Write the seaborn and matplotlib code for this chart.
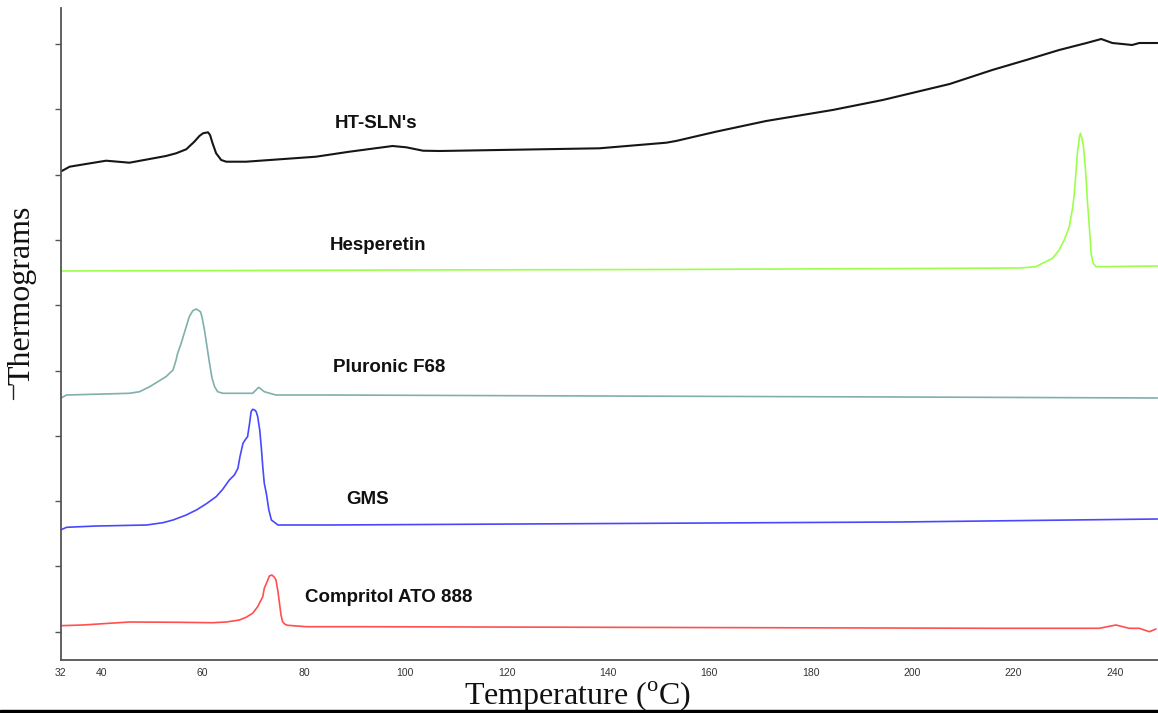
import numpy as np
import pandas as pd
import matplotlib
matplotlib.use("Agg")
import matplotlib.pyplot as plt
from matplotlib.lines import Line2D
from matplotlib.patches import Rectangle
import seaborn as sns

# ---------------- data (temperature in °C, heat-flow signal in arbitrary offset units) -------------
ht_T = [32.0, 33.8, 37.0, 41.0, 45.6, 52.8, 54.8, 56.8, 58.4, 59.4, 60.1, 61.1, 61.5, 62.0, 62.7,
        63.7, 64.7, 68.6, 82.4, 89.0, 97.5, 100.2, 103.5, 106.8, 138.3, 151.5, 153.4, 161.3, 171.2,
        184.3, 194.2, 207.4, 215.8, 222.5, 229.0, 234.4, 237.3, 239.5, 241.5, 243.4, 244.8, 248.4]
ht_y = [488.3, 493.3, 496.0, 499.3, 497.3, 504.0, 506.7, 510.7, 518.3, 524.0, 526.7, 527.7, 525.0,
        516.7, 506.7, 500.0, 498.3, 498.3, 503.3, 508.3, 514.0, 512.7, 509.3, 509.0, 511.7, 517.3,
        519.0, 528.3, 539.0, 550.0, 560.0, 576.0, 590.0, 600.0, 610.0, 617.0, 621.0, 617.0, 616.0,
        615.0, 617.0, 617.0]

hes_T = [32, 100, 150, 200, 221.2, 224.4, 225.7, 227.7, 229.0, 230.0, 231.0, 231.7, 232.0, 232.3,
         232.6, 233.0, 233.2, 233.5, 233.8, 234.2, 234.6, 235.0, 235.3, 235.7, 236.3, 248.4]
hes_y = [389, 390, 390.5, 391.5, 392, 393.3, 396.7, 401.7, 410, 420, 433.3, 453.3, 467, 486.7,
         506.7, 523.3, 526.7, 521.7, 513.3, 490, 457, 430, 407, 396.7, 393.3, 394]

plu_T = [32, 33.2, 45.6, 47.6, 49.6, 51.2, 52.8, 54.2, 54.8, 55.1, 55.8, 56.8, 57.4, 57.8, 58.1,
         58.8, 59.6, 59.9, 60.4, 60.9, 61.4, 61.9, 62.4, 63.0, 64.0, 69.9, 71.1, 72.2, 74.5, 85.1,
         138.3, 197.5, 248.4]
plu_y = [261.7, 265, 266.7, 268.3, 273.3, 278.3, 283.3, 290, 300, 306.7, 316.7, 333.3, 343.3,
         346.7, 349.3, 351, 348.3, 343.3, 330, 313.3, 296.7, 281.7, 273.3, 268.3, 266.7, 266.7,
         272.7, 268.3, 265, 265, 264, 263, 262]

gms_T = [32, 33.2, 39.1, 42.3, 49.0, 52.2, 54.2, 56.8, 58.8, 60.7, 62.7, 64.0, 65.3, 66.3, 67.0,
         67.4, 68.0, 68.5, 68.9, 69.3, 69.6, 69.9, 70.3, 70.6, 70.9, 71.3, 71.6, 71.9, 72.2, 72.6,
         73.1, 73.6, 74.9, 85.1, 197.5, 248.4]
gms_y = [130, 132.7, 134, 134.3, 135, 137.3, 140, 145, 150, 156, 163.3, 170.7, 180, 185, 191.7,
         203.3, 216.7, 220.7, 223.3, 236.7, 248.3, 250.7, 250, 248.3, 243.3, 230, 213.3, 193.3,
         176.7, 166.7, 150, 140, 135, 135, 138, 141]

com_T = [32, 36.4, 45.6, 55.5, 62.0, 64.7, 67.3, 68.6, 69.9, 70.9, 71.9, 72.2, 72.9, 73.2, 73.7,
         74.2, 74.5, 74.9, 75.2, 75.5, 75.8, 76.3, 76.8, 80.5, 91.0, 217.2, 236.9, 240.2, 242.8,
         244.8, 246.8, 248.1]
com_y = [34.3, 35, 38, 37.7, 37.3, 38, 40, 42.7, 46.7, 53.3, 63.3, 71.7, 80, 84, 85, 82.7, 80,
         68.3, 56.7, 45, 38.3, 35.7, 34.7, 33.3, 33.3, 31.7, 31.7, 35, 31.7, 31.7, 28.3, 31]

names = ["HT-SLN's", "Hesperetin", "Pluronic F68", "GMS", "Compritol ATO 888"]
label_T = [94.3, 94.7, 96.9, 92.6, 96.8]
label_y = [536.7, 415.0, 292.3, 161.0, 62.3]

x_ticks = [32, 40, 60, 80, 100, 120, 140, 160, 180, 200, 220, 240]

# ---------------- plotting -------------
sns.set_style("white")
plt.rcParams["font.family"] = ["Liberation Sans", "DejaVu Sans"]
plt.rcParams["mathtext.fontset"] = "custom"
plt.rcParams["mathtext.rm"] = "Liberation Serif"
plt.rcParams["lines.solid_joinstyle"] = "round"
plt.rcParams["lines.solid_capstyle"] = "round"

W, H = 1158, 713
fig = plt.figure(figsize=(W / 100, H / 100), dpi=100)
ax = fig.add_axes([60.5 / W, (H - 660) / H, 1 - 60.5 / W, (660 - 8) / H])

series = [
    (ht_T, ht_y, "#161616", 1.5),
    (hes_T, hes_y, "#9cff4a", 1.2),
    (plu_T, plu_y, "#7fb0aa", 1.2),
    (gms_T, gms_y, "#4848ff", 1.2),
    (com_T, com_y, "#ff4f4f", 1.2),
]
for T, y, c, lw in series:
    sns.lineplot(x=T, y=y, color=c, linewidth=lw, ax=ax, sort=False, estimator=None)

for n, tx, ty in zip(names, label_T, label_y):
    ax.text(tx, ty, n, ha="center", va="center", fontsize=13.5, fontweight="bold", color="#111111")

ax.set_xlim(32, 248.5)
ax.set_ylim(0, 652)
ax.set_xticks(x_ticks)
ax.set_xticklabels([str(t) for t in x_ticks])
ax.set_yticks(np.arange(10) * 65.3 + 28.3)
ax.set_yticklabels([])
ax.set_xlabel("")
ax.set_ylabel("")

for s in ["top", "right"]:
    ax.spines[s].set_visible(False)
for s in ["left", "bottom"]:
    ax.spines[s].set_color("#555555")
    ax.spines[s].set_linewidth(1.3)
ax.tick_params(axis="x", direction="out", length=3, width=1, color="#555555",
               labelsize=7.5, labelcolor="#333333", pad=3)
ax.tick_params(axis="y", direction="out", length=4, width=1, color="#555555", left=True)

# axis titles
fig.text(578 / W, (H - 705) / H, r"Temperature ($^{\mathrm{o}}$C)", ha="center", va="baseline",
         fontsize=23, family=["Liberation Serif", "DejaVu Serif"], color="#111111")
fig.text(22 / W, (H - 295) / H, "Thermograms", ha="center", va="center", rotation=90,
         fontsize=23, family=["Liberation Serif", "DejaVu Serif"], color="#111111")
fig.add_artist(Line2D([13 / W, 13 / W], [(H - 385) / H, (H - 399) / H], color="#222222",
                      linewidth=1.0, transform=fig.transFigure))
# bottom black rule
fig.add_artist(Rectangle((0, 0), 1, 3 / H, transform=fig.transFigure, color="black",
                         zorder=10))

fig.savefig("out.png", dpi=100)
